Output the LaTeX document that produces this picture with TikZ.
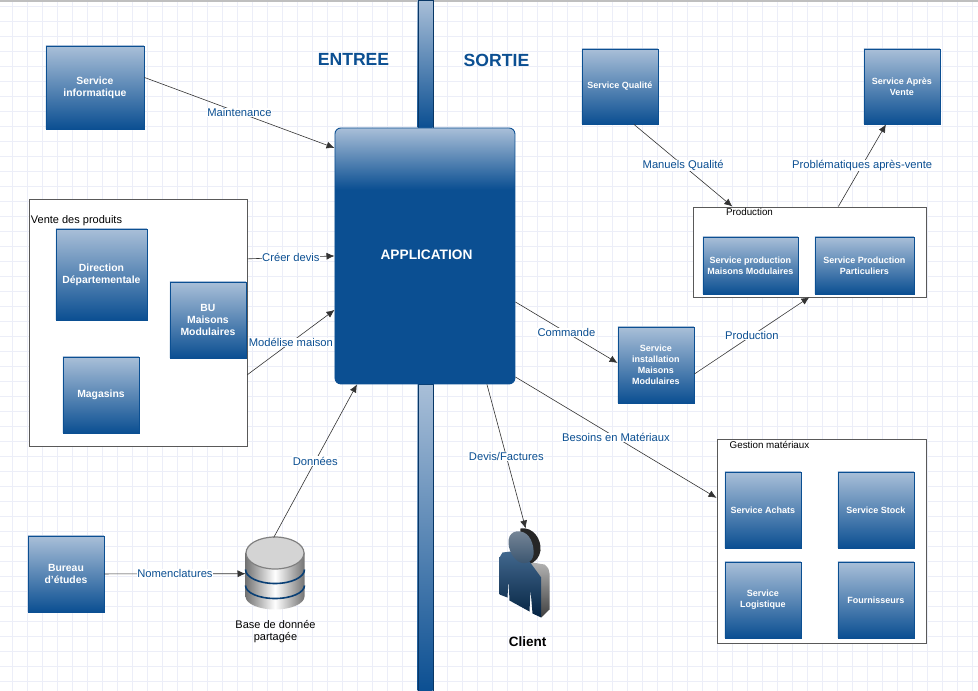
\documentclass[tikz,border=0pt]{standalone}
\usepackage{fontspec}
\setmainfont{Liberation Sans}
\usetikzlibrary{arrows.meta,positioning,calc}
\definecolor{boxblue}{HTML}{0B4F92}
\definecolor{boxlight}{HTML}{A9BFD8}
\definecolor{gridcol}{HTML}{ECEEF8}
\pgfdeclareverticalshading{appshade}{100bp}{color(0bp)=(boxblue); color(63bp)=(boxblue); color(75bp)=(boxlight); color(100bp)=(boxlight)}
\tikzset{
  svcbox/.style={draw=boxblue, line width=0.9pt, top color=boxlight, bottom color=boxblue, text=white, font=\bfseries\fontsize{10.4}{12}\selectfont, align=center, inner sep=0pt, anchor=north west},
  smallbox/.style={svcbox, font=\bfseries\fontsize{9}{10.8}\selectfont},
  groupbox/.style={draw=black!65, fill=white, line width=0.7pt, inner sep=0pt, anchor=north west},
  link/.style={draw=black!80, line width=0.6pt, -{Latex[length=8pt,width=7pt]}},
  linklabel/.style={fill=white, text=boxblue, font=\fontsize{11.2}{13}\selectfont, inner sep=0.5pt},
  grouptitle/.style={font=\fontsize{9.8}{11}\selectfont, inner sep=0pt},
  sidetitle/.style={text=boxblue, font=\bfseries\fontsize{17.6}{20}\selectfont, inner sep=0pt}
}
\begin{document}
\begin{tikzpicture}[x=1pt,y=-1pt]
\useasboundingbox (0.5,0.5) rectangle (978.5,691.5);
\fill[white] (0,0) rectangle (979,692);
\foreach \gx in {13,28,...,973} \draw[gridcol, line width=0.6pt] (\gx,0) -- (\gx,692);
\foreach \gy in {7,22,...,687} \draw[gridcol, line width=0.6pt] (0,\gy) -- (979,\gy);
\fill[black!25] (0,0) rectangle (979,2);
% divider
\node[draw=boxblue!70!black, top color=boxlight, bottom color=boxblue, minimum width=15pt, minimum height=128pt, inner sep=0pt, anchor=north west] (barup) at (418,0) {};
\node[draw=boxblue!70!black, top color=boxlight, bottom color=boxblue, minimum width=15pt, minimum height=308pt, inner sep=0pt, anchor=north west] (bardown) at (418,384) {};
\node[sidetitle] (entree) at (354,60) {ENTREE};
\node[sidetitle] (sortie) at (497,61) {SORTIE};
% centre
\node[draw=boxblue, line width=0.9pt, rounded corners=6pt, shading=appshade, minimum width=180pt, minimum height=256pt, anchor=north west, inner sep=0pt] (app) at (335,128) {};
\node[text=white, font=\bfseries\fontsize{13.7}{15}\selectfont, inner sep=0pt] (applabel) at (427,255) {APPLICATION};
% entree side
\node[svcbox, minimum width=98pt, minimum height=83pt] (svcinfo) at (46,46) {Service\\informatique};
\node[groupbox, minimum width=218pt, minimum height=247pt] (vente) at (29,199) {};
\node[font=\fontsize{11}{12}\selectfont, inner sep=0pt] (ventetitle) at (77,221) {Vente des produits};
\node[svcbox, minimum width=91pt, minimum height=91pt] (direction) at (56,229) {Direction\\Départementale};
\node[svcbox, minimum width=76pt, minimum height=76pt] (bu) at (170,282) {BU\\Maisons\\Modulaires};
\node[svcbox, minimum width=76pt, minimum height=76pt] (magasins) at (63,357) {Magasins};
\node[svcbox, minimum width=76pt, minimum height=76pt] (bureau) at (28,536) {Bureau\\d'études};
% base de donnee
\node[minimum width=59pt, minimum height=72pt, inner sep=0pt, anchor=north west] (base) at (246,538) {};
\shade[left color=black!55, right color=black!55, middle color=white, draw=none] (246,553) -- (246,597) arc[start angle=180, end angle=0, x radius=29.5, y radius=13] -- (305,553) -- cycle;
\draw[boxblue!80!black, line width=1.6pt] (246,570) arc[start angle=180, end angle=0, x radius=29.5, y radius=14];
\draw[boxblue!80!black, line width=1.6pt] (246,586) arc[start angle=180, end angle=0, x radius=29.5, y radius=13];
\draw[fill=black!17, draw=black!50, line width=1.2pt] (275.5,553.5) ellipse [x radius=29, y radius=16];
\node[font=\fontsize{11}{12}\selectfont, align=center, inner sep=0pt] (baselabel) at (276,632) {Base de donnée\\partagée};
% sortie side
\node[smallbox, minimum width=76pt, minimum height=75pt] (qualite) at (582,49) {Service Qualité};
\node[smallbox, minimum width=76pt, minimum height=75pt] (sav) at (864,49) {Service Après\\Vente};
\node[groupbox, minimum width=233pt, minimum height=90pt] (production) at (693,207) {};
\node[grouptitle] (prodtitle) at (750,212) {Production};
\node[smallbox, minimum width=95pt, minimum height=57pt] (prodmod) at (703,237) {Service production\\Maisons Modulaires};
\node[smallbox, minimum width=99pt, minimum height=57pt] (prodpart) at (815,237) {Service Production\\Particuliers};
\node[smallbox, minimum width=76pt, minimum height=76pt] (install) at (618,327) {Service\\installation\\Maisons\\Modulaires};
\node[groupbox, minimum width=209pt, minimum height=204pt] (gestion) at (717,439) {};
\node[grouptitle] (gestiontitle) at (770,445) {Gestion matériaux};
\node[smallbox, minimum width=76pt, minimum height=76pt] (achats) at (725,472) {Service Achats};
\node[smallbox, minimum width=76pt, minimum height=76pt] (stock) at (838,472) {Service Stock};
\node[smallbox, minimum width=76pt, minimum height=76pt] (logistique) at (725,562) {Service\\Logistique};
\node[smallbox, minimum width=76pt, minimum height=76pt] (fournisseurs) at (838,562) {Fournisseurs};
% client
\node[minimum width=50pt, minimum height=90pt, inner sep=0pt, anchor=north west] (client) at (500,529) {};
\shade[top color=black!30, bottom color=black!75] (533,563) -- (545,565) .. controls (549,568) and (550,571) .. (550,574) -- (550,610) -- (541.7,618) -- (541.7,578) -- (530,566) -- cycle;
\fill[black!85] (521,529) .. controls (534,527) and (542,540) .. (541,551) .. controls (540,558) and (536,562) .. (530,565) -- (520,550) -- cycle;
\shade[top color=boxlight!45!boxblue!80!black, bottom color=boxblue!45!black] (500,558) -- (503,553) -- (511,552) -- (530,562) -- (541.7,578) -- (541.7,618) -- (533,614) -- (531,590) -- (530,612) -- (510,601) -- (509,580) -- (508,598) -- (500,595) -- cycle;
\shade[top color=boxlight!70!black, bottom color=boxblue!50!black!80] (521,532) .. controls (530,533) and (535,545) .. (534,555) .. controls (533,563) and (526,566) .. (519,562) .. controls (511,557) and (507,545) .. (510,537) .. controls (512,533) and (516,531) .. (521,532) -- cycle;
\node[font=\bfseries\fontsize{13.5}{15}\selectfont, inner sep=0pt] (clientlabel) at (528,642) {Client};
% connectors
\draw[link] ([yshift=10]svcinfo.east) -- node[linklabel] {Maintenance} ([yshift=108]app.west);
\draw[link] ([yshift=63.5]vente.east) -- node[linklabel] {Créer devis} (app.west);
\draw[link] ([yshift=-52.5]vente.east) -- node[linklabel] {Modélise maison} ([yshift=-54]app.west);
\draw[link] ([xshift=-1.5]base.north) -- node[linklabel] {Données} ([xshift=-68]app.south);
\draw[link] (bureau.east) -- node[linklabel] {Nomenclatures} (base.west);
\draw[link] ([xshift=62]app.south) -- node[linklabel] {Devis/Factures} ([xshift=1]client.north);
\draw[link] ([yshift=-121]app.east) -- node[linklabel] {Besoins en Matériaux} ([yshift=43]gestion.west);
\draw[link] ([yshift=-46]app.east) -- node[linklabel] {Commande} ([yshift=2]install.west);
\draw[link] ([yshift=-9]install.east) -- node[linklabel] {Production} (production.south);
\draw[link] ([xshift=14]qualite.south) -- node[linklabel] {Manuels Qualité} ([xshift=-77]production.north);
\draw[link] ([xshift=29]production.north) -- node[linklabel] {Problématiques après-vente} ([xshift=-16]sav.south);
\end{tikzpicture}
\end{document}
